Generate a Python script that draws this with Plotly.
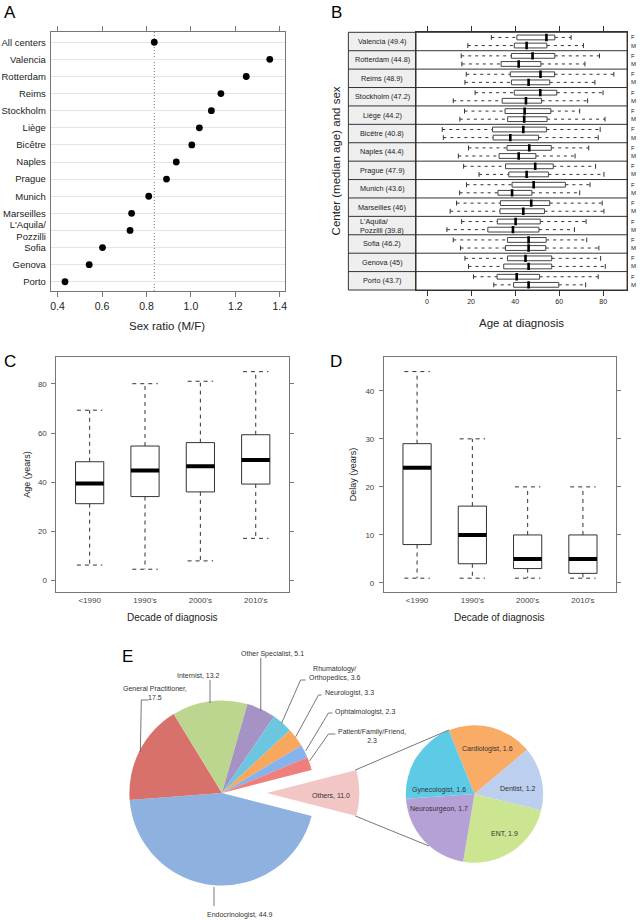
import plotly.graph_objects as go

W, H = 641, 920
FONT = "Liberation Sans, Arial, Helvetica, sans-serif"

# ---------------- Panel A : sex ratio by center ----------------
a_centers = ["All centers", "Valencia", "Rotterdam", "Reims", "Stockholm", "Liège", "Bicêtre",
             "Naples", "Prague", "Munich", "Marseilles", "L'Aquila/<br>Pozzilli", "Sofia",
             "Genova", "Porto"]
a_ratio = [0.835, 1.355, 1.249, 1.135, 1.092, 1.038, 1.004, 0.934, 0.890, 0.810, 0.733,
           0.726, 0.602, 0.542, 0.433]
a_ticks = [0.4, 0.6, 0.8, 1.0, 1.2, 1.4]
a_ticktext = ["0.4", "0.6", "0.8", "1.0", "1.2", "1.4"]

# ---------------- Panel B : age at diagnosis by center and sex ----------------
b_centers = ["Valencia (49.4)", "Rotterdam (44.8)", "Reims (48.9)", "Stockholm (47.2)",
             "Liège (44.2)", "Bicêtre (40.8)", "Naples (44.4)", "Prague (47.9)",
             "Munich (43.6)", "Marseilles (46)", "L'Aquila/<br>Pozzilli (39.8)",
             "Sofia (46.2)", "Genova (45)", "Porto (43.7)"]
b_f_low = [29.2, 15.5, 17.8, 21.8, 17.0, 6.9, 18.8, 16.6, 17.9, 13.4, 15.7, 11.9, 17.2, 21.1]
b_f_q1 = [40.8, 38.3, 37.8, 39.6, 35.4, 29.7, 36.3, 35.6, 38.6, 33.3, 31.9, 36.5, 36.5, 31.8]
b_f_med = [54.2, 47.9, 51.5, 51.4, 44.3, 43.7, 46.4, 49.1, 48.4, 47.3, 40.2, 46.1, 44.7, 40.7]
b_f_q3 = [58.0, 58.0, 57.9, 58.9, 56.2, 54.2, 56.4, 57.3, 62.8, 55.7, 51.4, 54.1, 56.6, 51.1]
b_f_high = [65.4, 78.3, 84.8, 79.9, 69.3, 78.6, 73.4, 76.5, 74.0, 79.5, 72.2, 72.5, 78.8, 77.7]
b_m_low = [18.5, 15.8, 17.2, 11.9, 14.9, 7.4, 14.2, 23.6, 14.8, 10.5, 9.0, 15.2, 18.8, 30.3]
b_m_q1 = [39.6, 33.6, 38.3, 34.1, 36.6, 30.0, 32.7, 37.1, 32.2, 33.1, 27.6, 35.6, 34.8, 39.3]
b_m_med = [45.2, 41.6, 46.1, 44.9, 44.1, 37.8, 41.6, 45.2, 38.6, 43.7, 39.0, 46.1, 46.1, 46.1]
b_m_q3 = [54.4, 51.7, 55.7, 52.0, 54.5, 50.6, 49.4, 55.1, 47.6, 53.3, 50.8, 53.9, 56.6, 59.8]
b_m_high = [71.0, 71.7, 76.2, 72.9, 80.8, 77.7, 67.2, 80.3, 69.3, 80.3, 66.9, 78.0, 80.9, 72.0]
b_ticks = [0, 20, 40, 60, 80]

# ---------------- Panels C and D : by decade of diagnosis ----------------
decades = ["<1990", "1990's", "2000's", "2010's"]
c_low = [6.2, 4.5, 7.9, 17.1]
c_q1 = [31.2, 34.1, 36.0, 39.2]
c_med = [39.4, 44.7, 46.5, 49.0]
c_q3 = [48.3, 54.7, 56.1, 59.3]
c_high = [69.3, 80.1, 81.1, 85.0]
c_ticks = [0, 20, 40, 60, 80]

d_low = [1, 1, 1, 1]
d_q1 = [8, 4, 3, 2]
d_med = [24, 10, 5, 5]
d_q3 = [29, 16, 10, 10]
d_high = [44, 30, 20, 20]
d_ticks = [0, 10, 20, 30, 40]

# ---------------- Panel E : referring specialist (pie of pie) ----------------
e_labels = ["Endocrinologist", "General Practitioner", "Internist", "Other Specialist",
            "Rhumatology/<br>Orthopedics", "Neurologist", "Ophtalmologist",
            "Patient/Family/Friend"]
e_values = [44.9, 17.5, 13.2, 5.1, 3.6, 3.3, 2.3, 2.3]
e_others_label = "Others"
e_others_value = 11.0
sub_labels = ["Cardiologist", "Dentist", "ENT", "Neurosurgeon", "Gynecologist"]
sub_values = [1.6, 1.2, 1.9, 1.7, 1.6]

# ---------------------------------------------------------------------------
def px(x):
    return x / W


def py(y):
    return 1 - y / H


fig = go.Figure()

# ---- A
fig.add_trace(go.Scatter(x=a_ratio, y=a_centers, mode="markers",
                         marker=dict(color="black", size=6.8),
                         xaxis="x", yaxis="y", hoverinfo="x+y"))

# ---- B (horizontal box plots built from the five-number summaries)
nb = len(b_centers)
dash_b = "3px,4px"


def hboxes(lows, q1s, meds, q3s, highs, off):
    seg = {"w": ([], []), "b": ([], []), "c": ([], []), "m": ([], [])}
    hb, hm, hc = 0.13, 0.2, 0.13
    for i in range(nb):
        yc = nb - 1 - i + off
        wx, wy = seg["w"]
        wx += [lows[i], q1s[i], None, q3s[i], highs[i], None]
        wy += [yc, yc, None, yc, yc, None]
        bx, by = seg["b"]
        bx += [q1s[i], q3s[i], q3s[i], q1s[i], q1s[i], None]
        by += [yc - hb, yc - hb, yc + hb, yc + hb, yc - hb, None]
        cx, cy = seg["c"]
        cx += [lows[i], lows[i], None, highs[i], highs[i], None]
        cy += [yc - hc, yc + hc, None, yc - hc, yc + hc, None]
        mx, my = seg["m"]
        mx += [meds[i], meds[i], None]
        my += [yc - hm, yc + hm, None]
    return seg


for (lo, q1, me, q3, hi, off) in [(b_f_low, b_f_q1, b_f_med, b_f_q3, b_f_high, 0.22),
                                  (b_m_low, b_m_q1, b_m_med, b_m_q3, b_m_high, -0.22)]:
    s = hboxes(lo, q1, me, q3, hi, off)
    fig.add_trace(go.Scatter(x=s["w"][0], y=s["w"][1], mode="lines", xaxis="x2", yaxis="y2",
                             line=dict(color="#333", width=1, dash=dash_b), hoverinfo="skip"))
    fig.add_trace(go.Scatter(x=s["b"][0], y=s["b"][1], mode="lines", xaxis="x2", yaxis="y2",
                             fill="toself", fillcolor="white",
                             line=dict(color="#444", width=1), hoverinfo="skip"))
    fig.add_trace(go.Scatter(x=s["c"][0], y=s["c"][1], mode="lines", xaxis="x2", yaxis="y2",
                             line=dict(color="#333", width=1), hoverinfo="skip"))
    fig.add_trace(go.Scatter(x=s["m"][0], y=s["m"][1], mode="lines", xaxis="x2", yaxis="y2",
                             line=dict(color="black", width=2.6), hoverinfo="skip"))


# ---- C and D (vertical box plots)
def vboxes(lows, q1s, meds, q3s, highs, xa, ya):
    hw, cw = 0.255, 0.23
    wx, wy, bx, by, cx, cy, mx, my = [], [], [], [], [], [], [], []
    for i in range(len(lows)):
        c = i + 1
        wx += [c, c, None, c, c, None]
        wy += [q3s[i], highs[i], None, q1s[i], lows[i], None]
        cx += [c - cw, c + cw, None, c - cw, c + cw, None]
        cy += [highs[i], highs[i], None, lows[i], lows[i], None]
        bx += [c - hw, c + hw, c + hw, c - hw, c - hw, None]
        by += [q1s[i], q1s[i], q3s[i], q3s[i], q1s[i], None]
        mx += [c - hw, c + hw, None]
        my += [meds[i], meds[i], None]
    dash = "4px,4px"
    fig.add_trace(go.Scatter(x=wx, y=wy, mode="lines", xaxis=xa, yaxis=ya,
                             line=dict(color="#333", width=1, dash=dash), hoverinfo="skip"))
    fig.add_trace(go.Scatter(x=cx, y=cy, mode="lines", xaxis=xa, yaxis=ya,
                             line=dict(color="#333", width=1, dash=dash), hoverinfo="skip"))
    fig.add_trace(go.Scatter(x=bx, y=by, mode="lines", xaxis=xa, yaxis=ya,
                             line=dict(color="#333", width=1), hoverinfo="skip"))
    fig.add_trace(go.Scatter(x=mx, y=my, mode="lines", xaxis=xa, yaxis=ya,
                             line=dict(color="black", width=4), hoverinfo="skip"))


vboxes(c_low, c_q1, c_med, c_q3, c_high, "x3", "y3")
vboxes(d_low, d_q1, d_med, d_q3, d_high, "x4", "y4")

# ---- E (pie of pie)
others_slice = sum(sub_values)
main_labels = [e_others_label] + [l.replace("<br>", " ") for l in e_labels]
main_values = [others_slice] + e_values
total = sum(main_values)
rot = 90 - 180 * others_slice / total
main_colors = ["rgba(0,0,0,0)", "#8eb1e0", "#d8716c", "#bcd58f", "#a593c6", "#6cc6e0",
               "#f7a75e", "#86b2ee", "#ee7f7c"]
others_colors = ["#f2c6c5"] + ["rgba(0,0,0,0)"] * len(e_values)

main_cx, main_cy, main_r = 223, 793, 93
pull_px = 45
fig.add_trace(go.Pie(labels=main_labels, values=main_values, sort=False, direction="clockwise",
                     rotation=rot, textinfo="none", marker=dict(colors=main_colors, line=dict(width=0)),
                     domain=dict(x=[px(main_cx - main_r), px(main_cx + main_r)],
                                 y=[py(main_cy + main_r), py(main_cy - main_r)]),
                     showlegend=False, hoverinfo="label+value"))
fig.add_trace(go.Pie(labels=main_labels, values=main_values, sort=False, direction="clockwise",
                     rotation=rot, textinfo="none", marker=dict(colors=others_colors, line=dict(width=0)),
                     domain=dict(x=[px(main_cx + pull_px - main_r), px(main_cx + pull_px + main_r)],
                                 y=[py(main_cy + main_r), py(main_cy - main_r)]),
                     showlegend=False, hoverinfo="label+value"))
sub_cx, sub_cy, sub_r = 476.7, 794, 69
sub_colors = ["#f8ac66", "#bccfee", "#cce591", "#b5a1d5", "#5ecbe6"]
fig.add_trace(go.Pie(labels=sub_labels, values=sub_values, sort=False, direction="clockwise",
                     rotation=-22, textinfo="none", marker=dict(colors=sub_colors, line=dict(width=0)),
                     domain=dict(x=[px(sub_cx - sub_r), px(sub_cx + sub_r)],
                                 y=[py(sub_cy + sub_r), py(sub_cy - sub_r)]),
                     showlegend=False, hoverinfo="label+value"))

# ---------------------------------------------------------------------------
annotations = []
shapes = []


def ann(x, y, text, size, color="#222", **kw):
    d = dict(x=px(x), y=py(y), xref="paper", yref="paper", text=text, showarrow=False,
             xanchor="center", yanchor="middle",
             font=dict(size=size, color=color, family=FONT))
    d.update(kw)
    annotations.append(d)


# panel letters
ann(10, 12, "A", 17, "black")
ann(338, 12, "B", 17, "black")
ann(10, 361, "C", 17, "black")
ann(338, 361, "D", 17, "black")
ann(128, 656, "E", 17, "black")

# axis titles
ann(168, 326, "Sex ratio (M/F)", 11.5)
ann(524, 323, "Age at diagnosis", 11.5)
ann(338, 161, "Center (median age) and sex", 11.5, textangle=-90)
ann(27, 474, "Age (years)", 9, textangle=-90)
ann(355, 474, "Delay (years)", 9, textangle=-90)
ann(173.5, 617, "Decade of diagnosis", 10)
ann(502.3, 617, "Decade of diagnosis", 10)

# A: dotted reference line at the all-centers ratio
shapes.append(dict(type="line", xref="x", yref="y domain", x0=a_ratio[0], x1=a_ratio[0], y0=0, y1=1,
                   line=dict(color="#777", width=1, dash="1px,2px"), layer="below"))

# B: strips
strip_w = -(418 - 350) / (630 - 418)
shapes.append(dict(type="rect", xref="x2 domain", yref="y2 domain", x0=strip_w, x1=0, y0=0, y1=1,
                   fillcolor="#efefef", line=dict(width=0), layer="below"))
for k in range(1, nb):
    shapes.append(dict(type="line", xref="x2 domain", yref="y2", x0=strip_w, x1=1,
                       y0=k - 0.5, y1=k - 0.5, line=dict(color="#333", width=1)))
shapes.append(dict(type="rect", xref="x2 domain", yref="y2 domain", x0=strip_w, x1=1, y0=0, y1=1,
                   line=dict(color="#333", width=1)))
shapes.append(dict(type="line", xref="x2 domain", yref="y2 domain", x0=0, x1=0, y0=0, y1=1,
                   line=dict(color="#333", width=1)))
for i, name in enumerate(b_centers):
    yc = nb - 1 - i
    annotations.append(dict(x=strip_w / 2, y=yc, xref="x2 domain", yref="y2", text=name,
                            showarrow=False, align="left", xanchor="center", yanchor="middle",
                            font=dict(size=7.3, color="#222", family=FONT)))
    for lab, off in (("F", 0.22), ("M", -0.22)):
        annotations.append(dict(x=px(636), y=yc + off, xref="paper", yref="y2", text=lab,
                                showarrow=False, xanchor="center", yanchor="middle",
                                font=dict(size=6, color="#222", family=FONT)))

# E: labels
e_breaks = [False, True, False, False, False, False, False, True]
e_pos = [(241, 915), (156, 693), (199, 675), (274, 654), (336, 673), (351, 693), (367, 712),
         (374, 736)]
for lab, val, br, (x, y) in zip(e_labels, e_values, e_breaks, e_pos):
    txt = f"{lab},{'<br>' if br else ' '}{val:.1f}"
    ann(x, y, txt, 7, "#333")
ann(333, 795, f"{e_others_label}, {e_others_value:.1f}", 7, "#333")
sub_pos = [(489.5, 749), (520, 788), (506.5, 833), (441.5, 809), (441, 790)]
for lab, val, (x, y) in zip(sub_labels, sub_values, sub_pos):
    ann(x, y, f"{lab}, {val:.1f}", 7, "#333")

leaders = [
    [(215, 887), (215, 906)],
    [(149, 700), (142, 700), (141, 752)],
    [(211, 680), (211, 703)],
    [(262, 658), (262, 711)],
    [(307, 680), (302, 680), (283, 723)],
    [(323, 695), (320, 695), (297, 737)],
    [(334, 713), (330, 713), (307, 751)],
    [(337, 734), (330, 734), (311, 761)],
    [(357, 770), (451, 730)],
    [(357, 816), (431, 846)],
]
for pts in leaders:
    path = "M " + " L ".join(f"{px(x):.5f},{py(y):.5f}" for x, y in pts)
    shapes.append(dict(type="path", xref="paper", yref="paper", path=path,
                       line=dict(color="#555", width=0.8)))

# ---------------------------------------------------------------------------
tickfont_small = dict(size=8, color="#444", family=FONT)
fig.update_layout(
    width=W, height=H, margin=dict(l=0, r=0, t=0, b=0),
    paper_bgcolor="white", plot_bgcolor="white", showlegend=False,
    font=dict(family=FONT),
    xaxis=dict(domain=[px(51), px(286)], range=[0.369, 1.422], anchor="y",
               tickvals=a_ticks, ticktext=a_ticktext, ticks="outside", ticklen=5,
               tickcolor="#777", showline=True, linecolor="#777", mirror="ticks",
               showgrid=False, zeroline=False, tickfont=dict(size=10.5, color="#222", family=FONT)),
    yaxis=dict(domain=[py(291), py(32)], type="category", categoryorder="array",
               categoryarray=a_centers[::-1], range=[-0.54, 14.6], anchor="x",
               showline=True, linecolor="#777", mirror=True, ticks="",
               showgrid=True, gridcolor="#e4e4e4", gridwidth=1.3,
               tickfont=dict(size=9.5, color="#222", family=FONT), ticklabelstandoff=2),
    xaxis2=dict(domain=[px(418), px(630)], range=[-5.0, 90.8], anchor="y2",
                tickvals=b_ticks, ticks="outside", ticklen=5, tickcolor="#333",
                showline=True, linecolor="#333", mirror="ticks", showgrid=False, zeroline=False,
                tickfont=dict(size=7, color="#222", family=FONT)),
    yaxis2=dict(domain=[py(290), py(32.3)], range=[-0.5, nb - 0.5], anchor="x2",
                showline=True, linecolor="#333", mirror=True, ticks="", showticklabels=False,
                showgrid=False, zeroline=False),
    xaxis3=dict(domain=[px(56.7), px(290.3)], range=[0.4, 4.6], anchor="y3",
                tickvals=[1, 2, 3, 4], ticktext=decades, ticks="", showline=True,
                linecolor="#777", mirror=True, showgrid=False, zeroline=False,
                tickfont=tickfont_small),
    yaxis3=dict(domain=[py(592.3), py(356.7)], range=[-4.9, 91.1], anchor="x3",
                tickvals=c_ticks, ticks="outside", ticklen=4, tickcolor="#777",
                showline=True, linecolor="#777", mirror="ticks", showgrid=False, zeroline=False,
                tickfont=tickfont_small, ticklabelstandoff=3),
    xaxis4=dict(domain=[px(385.7), px(619)], range=[0.4, 4.6], anchor="y4",
                tickvals=[1, 2, 3, 4], ticktext=decades, ticks="", showline=True,
                linecolor="#777", mirror=True, showgrid=False, zeroline=False,
                tickfont=tickfont_small),
    yaxis4=dict(domain=[py(592.3), py(356.7)], range=[-1.94, 47.1], anchor="x4",
                tickvals=d_ticks, ticks="outside", ticklen=4, tickcolor="#777",
                showline=True, linecolor="#777", mirror="ticks", showgrid=False, zeroline=False,
                tickfont=tickfont_small, ticklabelstandoff=3),
    annotations=annotations,
    shapes=shapes,
)

fig.write_html("out.html", config={"displayModeBar": False},
               post_script="document.body.style.margin='0px';document.body.style.padding='0px';"
                           "document.documentElement.style.overflow='hidden';")
